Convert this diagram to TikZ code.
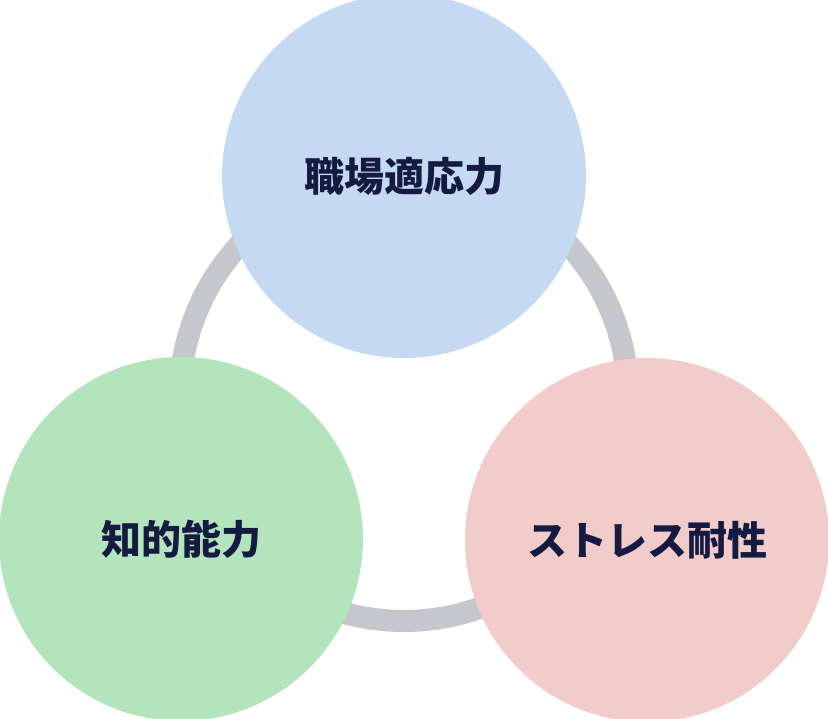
\documentclass[tikz,border=0pt]{standalone}
\usepackage{fontspec}
\newfontfamily\cjk{Noto Sans CJK JP}
\usetikzlibrary{positioning}
\definecolor{ringgray}{HTML}{C6C7CC}
\definecolor{topblue}{HTML}{C5D9F2}
\definecolor{leftgreen}{HTML}{B3E4BB}
\definecolor{rightpink}{HTML}{F2CBCB}
\definecolor{labelnavy}{HTML}{141A40}
\tikzset{
  factor/.style={circle, minimum size=364pt, inner sep=0pt,
    font=\cjk\bfseries\fontsize{40}{40}\selectfont, text=labelnavy}
}

\begin{document}
\begin{tikzpicture}[x=1pt, y=-1pt]
    \useasboundingbox (0,0) rectangle (828,719);

    % draw ring
    \draw[ringgray, line width=22pt] (404,397) circle (224);

    % draw circles
    \node[factor, fill=topblue] (adapt) at (404,176) {職場適応力};
    \node[factor, fill=leftgreen] (intel) at (181,539) {知的能力};
    \node[factor, fill=rightpink] (stress) at (647,540) {ストレス耐性};
\end{tikzpicture}
\end{document}
